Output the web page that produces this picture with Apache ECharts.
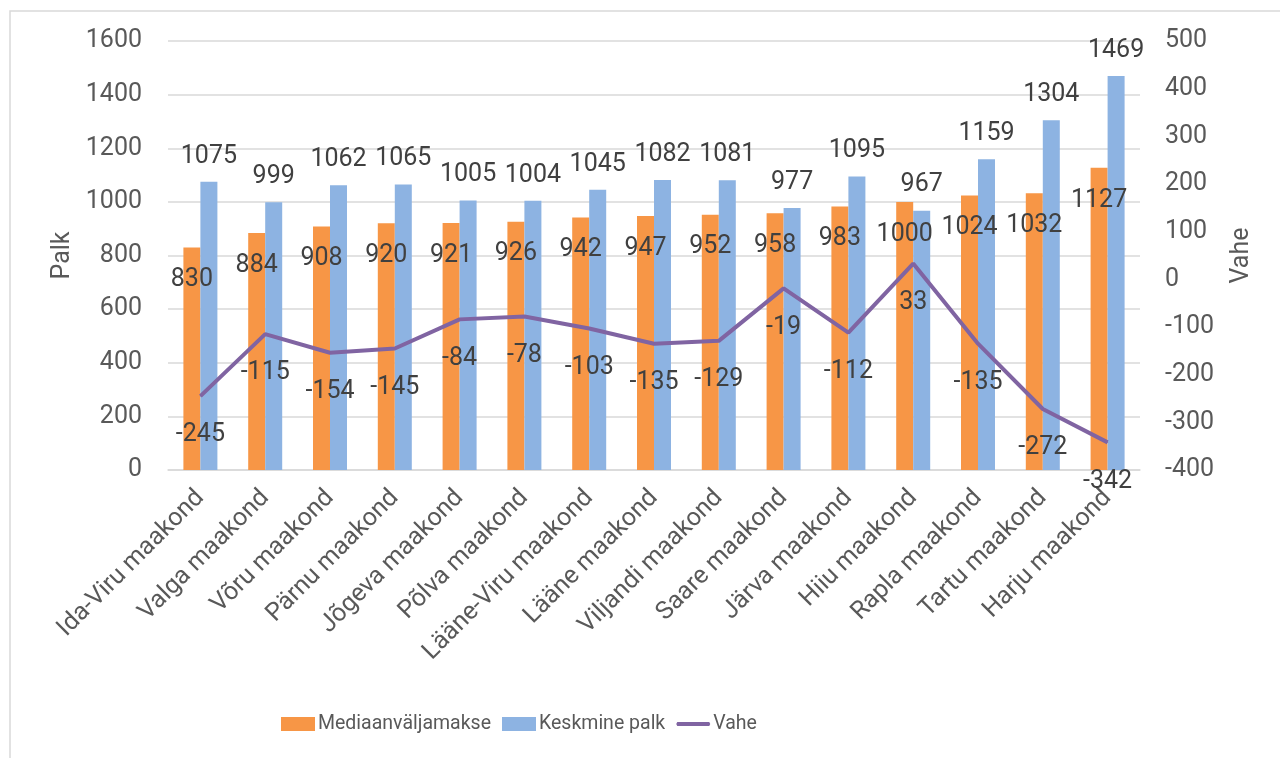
<!DOCTYPE html>
<html>
<head>
<meta charset="utf-8">
<script src="https://cdn.jsdelivr.net/npm/echarts@6/dist/echarts.min.js"></script>
<style>
  html, body { margin: 0; padding: 0; background: #fff; }
  #chart { width: 1280px; height: 758px; }
</style>
</head>
<body>
<div id="chart"></div>
<script>
const counties = [
  'Ida-Viru maakond', 'Valga maakond', 'Võru maakond', 'Pärnu maakond',
  'Jõgeva maakond', 'Põlva maakond', 'Lääne-Viru maakond', 'Lääne maakond',
  'Viljandi maakond', 'Saare maakond', 'Järva maakond', 'Hiiu maakond',
  'Rapla maakond', 'Tartu maakond', 'Harju maakond'
]
const median = [830, 884, 908, 920, 921, 926, 942, 947, 952, 958, 983, 1000, 1024, 1032, 1127]
const avgWage = [1075, 999, 1062, 1065, 1005, 1004, 1045, 1082, 1081, 977, 1095, 967, 1159, 1304, 1469]
const diff = [-245, -115, -154, -145, -84, -78, -103, -135, -129, -19, -112, 33, -135, -272, -342]

const font = 'Roboto'
const labelColor = '#404040'
const axisColor = '#595959'
const fs = 25

const chart = echarts.init(document.getElementById('chart'))

const option = {
  animation: false,
  textStyle: { fontFamily: font },
  graphic: [{
    type: 'rect',
    shape: { x: 10, y: 11, width: 1400, height: 900 },
    style: { fill: 'none', stroke: '#d9d9d9', lineWidth: 1.5 },
    silent: true
  }],
  grid: { left: 168, right: 140, top: 41, height: 429 },
  legend: {
    top: 709,
    left: 276,
    itemWidth: 34,
    itemHeight: 14,
    itemGap: 11,
    textStyle: {
      fontFamily: font,
      fontSize: 19.5,
      color: axisColor,
      padding: [0, 0, 0, -2]
    },
    data: [
      { name: 'Mediaanväljamakse', icon: 'rect' },
      { name: 'Keskmine palk', icon: 'rect' },
      { name: 'Vahe', icon: 'path://M0,0 L0,0 M0,14 L0,14 M1,5 L33,5 L34,7 L33,9 L1,9 L0,7 Z' }
    ]
  },
  xAxis: {
    type: 'category',
    data: counties,
    axisLine: { lineStyle: { color: '#d9d9d9', width: 1.5 } },
    axisTick: { show: false },
    axisLabel: {
      rotate: 45,
      interval: 0,
      fontSize: fs,
      color: axisColor,
      margin: 24
    }
  },
  yAxis: [
    {
      type: 'value',
      min: 0,
      max: 1600,
      interval: 200,
      name: 'Palk',
      nameLocation: 'middle',
      nameRotate: 90,
      nameGap: 87,
      nameTextStyle: { fontSize: fs, color: axisColor },
      axisLabel: { fontSize: fs, color: axisColor, margin: 26, formatter: v => String(v) },
      splitLine: { lineStyle: { color: '#d9d9d9', width: 1.5 } }
    },
    {
      type: 'value',
      min: -400,
      max: 500,
      interval: 100,
      name: 'Vahe',
      nameLocation: 'middle',
      nameRotate: 90,
      nameGap: 89,
      nameTextStyle: { fontSize: fs, color: axisColor },
      alignTicks: false,
      axisLabel: { fontSize: fs, color: axisColor, margin: 25, formatter: v => String(v) },
      splitLine: { show: false }
    }
  ],
  series: [
    {
      name: 'Mediaanväljamakse',
      type: 'bar',
      data: median,
      barWidth: 17,
      barGap: '0%',
      itemStyle: { color: '#f79646' },
      label: {
        show: true,
        position: 'insideTop',
        distance: 20,
        fontSize: fs,
        color: labelColor
      },
      z: 2
    },
    {
      name: 'Keskmine palk',
      type: 'bar',
      data: avgWage,
      barWidth: 17,
      itemStyle: { color: '#8db3e2' },
      label: {
        show: true,
        position: 'top',
        distance: 13,
        fontSize: fs,
        color: labelColor
      },
      z: 2
    },
    {
      name: 'Vahe',
      type: 'line',
      yAxisIndex: 1,
      data: diff,
      symbol: 'circle',
      symbolSize: 1,
      lineStyle: { color: '#8064a2', width: 4 },
      itemStyle: { color: '#8064a2' },
      label: {
        show: true,
        position: 'bottom',
        distance: 26,
        fontSize: fs,
        color: labelColor
      },
      z: 3
    }
  ]
}

chart.setOption(option)

window.addEventListener('resize', () => {
  chart?.resize()
})
</script>
</body>
</html>
